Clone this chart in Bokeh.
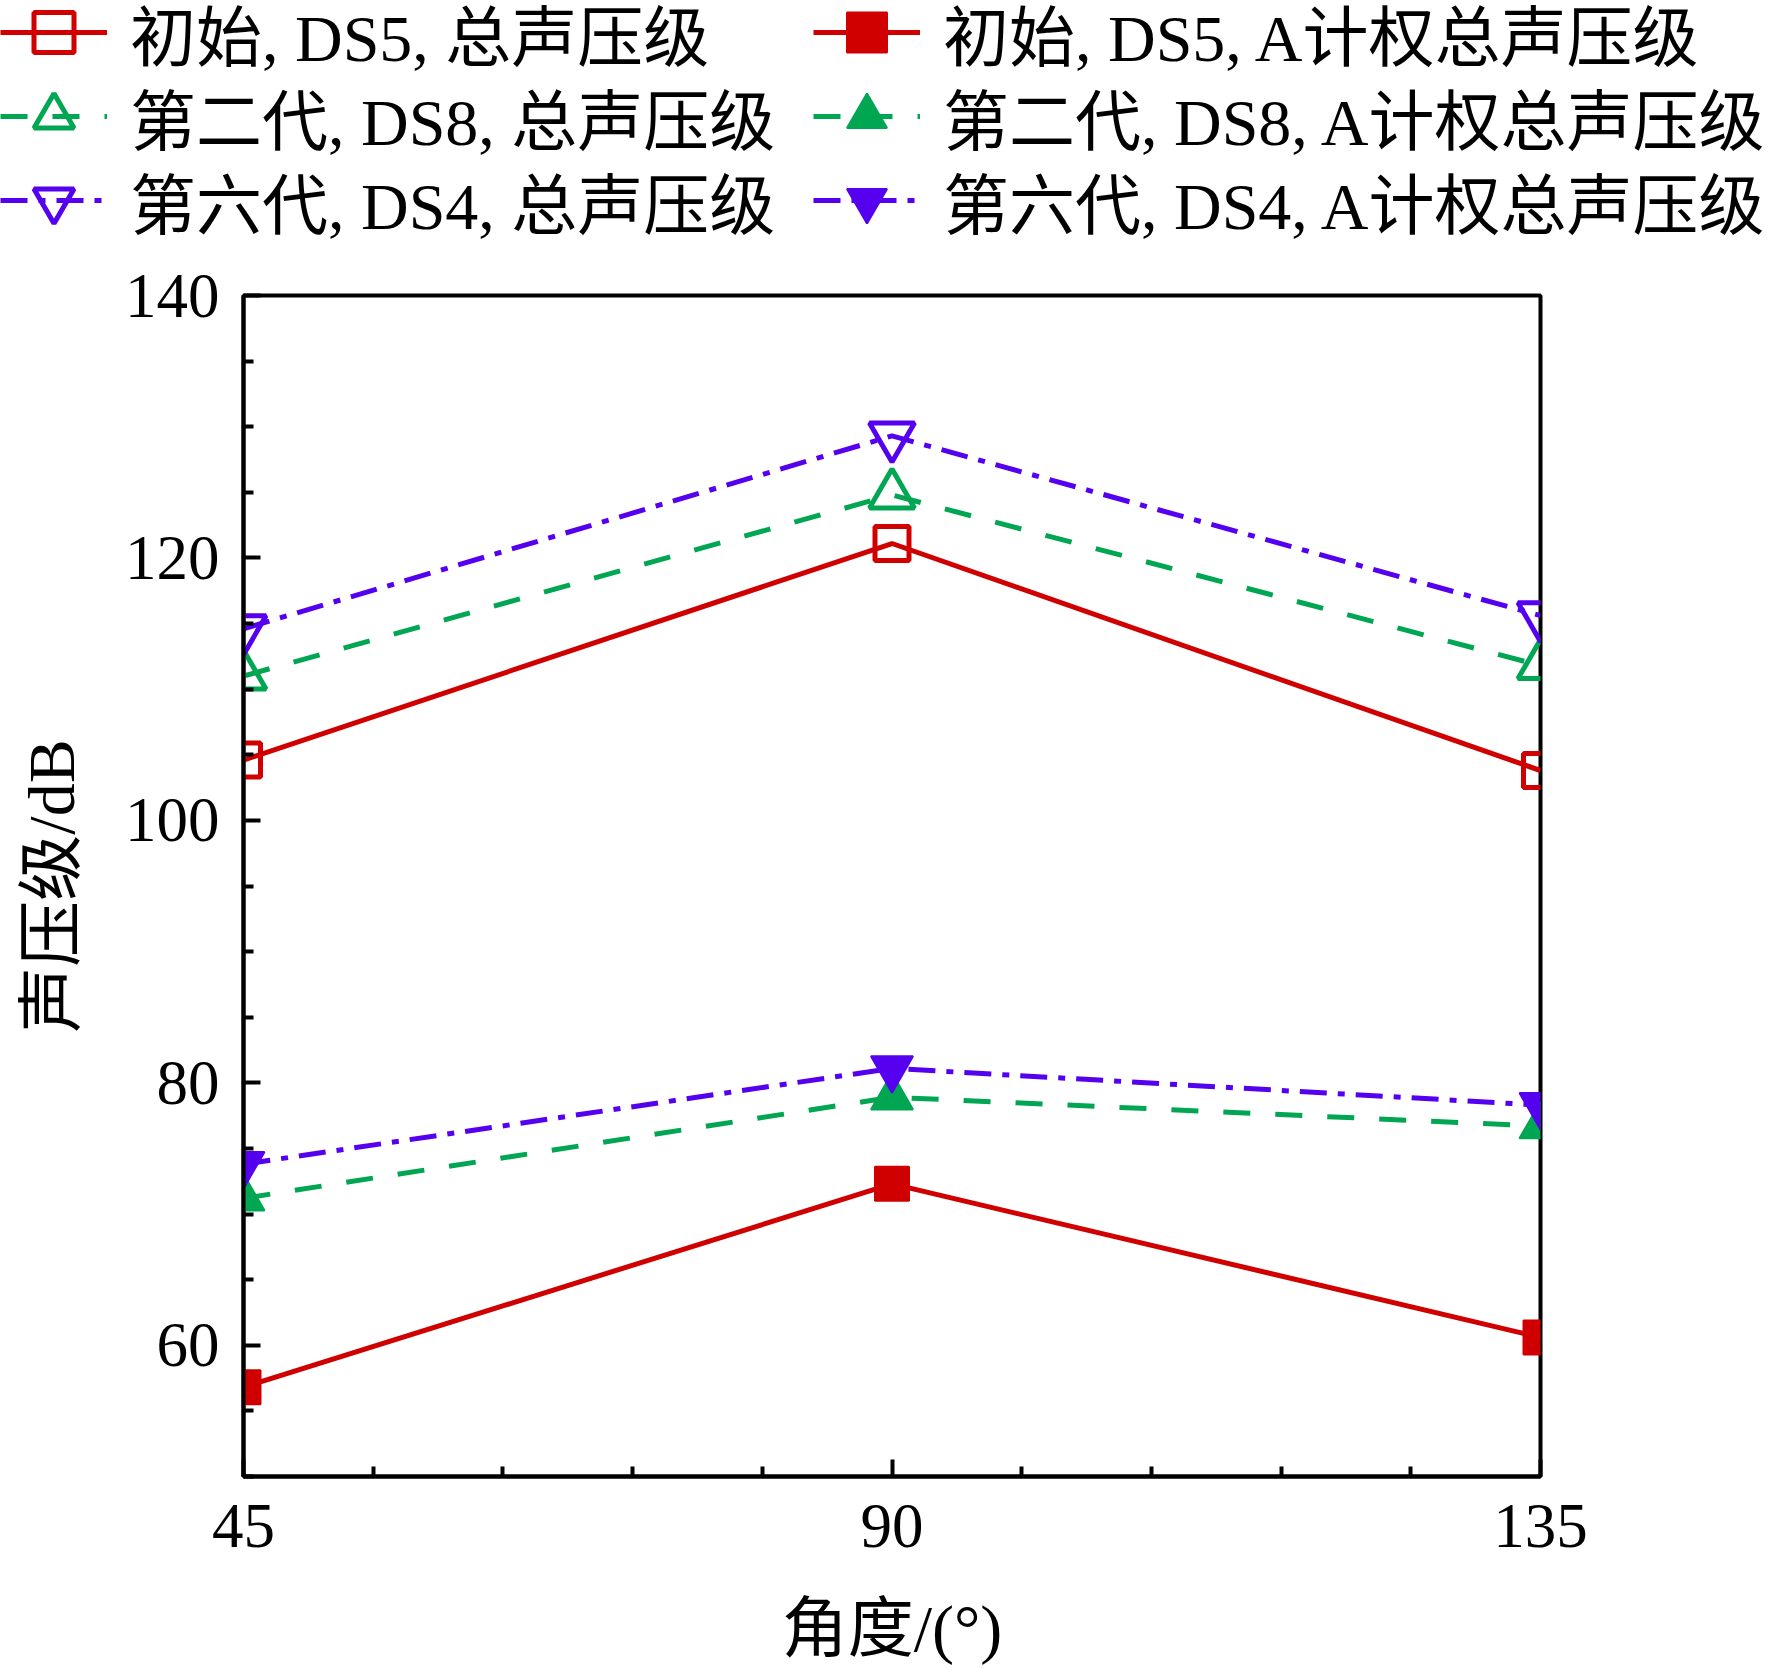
import numpy as np
from bokeh.plotting import figure
from bokeh.layouts import column
from bokeh.models import Range1d, FixedTicker, Legend, LegendItem
from bokeh.embed import file_html
from bokeh.resources import INLINE

# ---- data ----
angles = [45, 90, 135]
x_ticks = [45, 90, 135]
y_ticks = [60, 80, 100, 120, 140]
ds5_total = [104.6, 121.1, 103.8]
ds8_total = [111.0, 124.8, 111.8]
ds4_total = [114.6, 129.3, 115.6]
ds5_a = [56.8, 72.3, 60.6]
ds8_a = [71.2, 78.9, 76.7]
ds4_a = [73.8, 81.1, 78.3]
labels = ["初始, DS5, 总声压级", "第二代, DS8, 总声压级", "第六代, DS4, 总声压级",
          "初始, DS5, A计权总声压级", "第二代, DS8, A计权总声压级", "第六代, DS4, A计权总声压级"]

RED = "#D00000"
GREEN = "#00A651"
PURPLE = "#5500EE"
FONT = "Liberation Serif, Noto Sans CJK SC"

W, H = 1764, 1668
LH = 262                     # height of the legend strip on top
BL, BR, BT, BB = 243, 224, 295 - LH, 192
MH = H - LH

p = figure(width=W, height=MH, output_backend="svg", toolbar_location=None,
           x_range=Range1d(45, 135), y_range=Range1d(50, 140),
           min_border_left=BL, min_border_right=BR,
           min_border_top=BT, min_border_bottom=BB)
p.xgrid.visible = False
p.ygrid.visible = False
p.outline_line_color = "black"
p.outline_line_width = 4
p.outline_line_alpha = 1
p.background_fill_color = "white"
p.border_fill_color = "white"

x_minor = [v for v in np.arange(45, 136, 9).tolist() if v not in x_ticks]
y_minor = [v for v in np.arange(50, 141, 5).tolist() if v not in y_ticks]
p.xaxis.ticker = FixedTicker(ticks=x_ticks, minor_ticks=x_minor)
p.yaxis.ticker = FixedTicker(ticks=y_ticks, minor_ticks=y_minor)

for ax in (p.xaxis, p.yaxis):
    ax.axis_line_width = 4
    ax.axis_line_color = "black"
    ax.major_tick_line_width = 4
    ax.minor_tick_line_width = 4
    ax.major_tick_in = 17
    ax.major_tick_out = 0
    ax.minor_tick_in = 10
    ax.minor_tick_out = 0
    ax.major_label_text_font = FONT
    ax.major_label_text_font_size = "63px"
    ax.major_label_text_color = "black"
    ax.axis_label_text_font = FONT
    ax.axis_label_text_font_size = "66px"
    ax.axis_label_text_font_style = "normal"
    ax.axis_label_text_color = "black"

p.xaxis.axis_label = "角度/(°)"
p.yaxis.axis_label = "声压级/dB"
p.xaxis.major_label_standoff = 28
p.yaxis.major_label_standoff = 24
p.xaxis.axis_label_standoff = 42
p.yaxis.axis_label_standoff = 34

series = [
    (ds5_total, RED, "solid", "square", False, 34),
    (ds8_total, GREEN, "27 25", "triangle", False, 45),
    (ds4_total, PURPLE, "27 11 7 11", "inverted_triangle", False, 45),
    (ds5_a, RED, "solid", "square", True, 34),
    (ds8_a, GREEN, "27 25", "triangle", True, 42),
    (ds4_a, PURPLE, "27 11 7 11", "inverted_triangle", True, 42),
]

# legend strip: its own figure whose frame covers the whole strip
lf = figure(width=W, height=LH, output_backend="svg", toolbar_location=None,
            x_range=Range1d(45, 135), y_range=Range1d(1000, 1001),
            min_border_left=0, min_border_right=0, min_border_top=0,
            min_border_bottom=0, x_axis_type=None, y_axis_type=None)
try:
    lf.frame_align = False
except Exception:
    pass
lf.xgrid.visible = False
lf.ygrid.visible = False
lf.outline_line_alpha = 0
lf.background_fill_color = "white"
lf.border_fill_color = "white"

items = []
for (vals, col, dash, mk, filled, sz), lab in zip(series, labels):
    rs = []
    for fig in (p, lf):
        lr = fig.line(angles, vals, line_color=col, line_width=5, line_dash=dash)
        if filled:
            sr = fig.scatter(angles, vals, marker=mk, size=sz, line_color=col,
                             fill_color=col, line_width=2)
        else:
            sr = fig.scatter(angles, vals, marker=mk, size=sz, line_color=col,
                             fill_alpha=0, line_width=5)
        rs.append((lr, sr))
    items.append(LegendItem(label=lab, renderers=list(rs[1])))

FS = 66
ITEM_H = 100                 # row box height (>= measured text height)
centers = [32, 116, 200]     # row centres in the strip
col_x = [0, 813]
for idx, it in enumerate(items):
    c = idx // 3
    r = idx % 3
    top = centers[r] - ITEM_H / 2
    vy = LH - top - ITEM_H
    lg = Legend(items=[it], location=(col_x[c], vy),
                glyph_width=107, glyph_height=ITEM_H, label_height=ITEM_H,
                label_standoff=23, spacing=0, padding=0, margin=0,
                border_line_alpha=0, background_fill_alpha=0,
                label_text_font=FONT, label_text_font_size=f"{FS}px",
                label_text_color="black")
    lf.add_layout(lg)

page = column(lf, p, spacing=0)
open("out.html", "w").write(file_html(page, INLINE))
